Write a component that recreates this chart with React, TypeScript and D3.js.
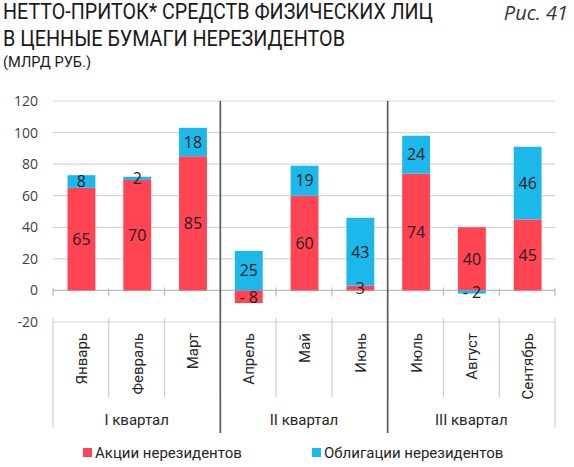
import { useRef, useEffect } from 'react';
import * as d3 from 'd3';

const months = ['Январь', 'Февраль', 'Март', 'Апрель', 'Май', 'Июнь', 'Июль', 'Август', 'Сентябрь'];
const stocks = [65, 70, 85, -8, 60, 3, 74, 40, 45];
const bonds = [8, 2, 18, 25, 19, 43, 24, -2, 46];
const quarters = ['I квартал', 'II квартал', 'III квартал'];
const yTicks = [-20, 0, 20, 40, 60, 80, 100, 120];
const seriesNames = ['Акции нерезидентов', 'Облигации нерезидентов'];

const RED = '#FF4553';
const BLUE = '#1DB8EA';

export default function App() {
  const svgRef = useRef<SVGSVGElement>(null);

  useEffect(() => {
    if (!svgRef.current) return;
    const svg = d3.select(svgRef.current);
    svg.selectAll('*').remove();

    const left = 53;
    const right = 555;

    const x = d3.scaleBand<string>().domain(months).range([left, right]).padding(0);
    const y = d3.scaleLinear().domain([-20, 120]).range([322, 101]);
    const bw = x.bandwidth();

    const rows = months.map((m, i) => ({ month: m, stocks: stocks[i], bonds: bonds[i] }));
    const stack = d3
      .stack<{ month: string; stocks: number; bonds: number }>()
      .keys(['stocks', 'bonds'])
      .offset(d3.stackOffsetDiverging);
    const layers = stack(rows);
    const colors = [RED, BLUE];

    // Titles
    svg.append('text')
      .attr('x', 3).attr('y', 19)
      .attr('font-family', 'Roboto, sans-serif').attr('font-size', 22)
      .attr('fill', '#1a1a1a')
      .attr('textLength', 430).attr('lengthAdjust', 'spacingAndGlyphs')
      .text('НЕТТО-ПРИТОК* СРЕДСТВ ФИЗИЧЕСКИХ ЛИЦ');
    svg.append('text')
      .attr('x', 3).attr('y', 46)
      .attr('font-family', 'Roboto, sans-serif').attr('font-size', 22)
      .attr('fill', '#1a1a1a')
      .attr('textLength', 342).attr('lengthAdjust', 'spacingAndGlyphs')
      .text('В ЦЕННЫЕ БУМАГИ НЕРЕЗИДЕНТОВ');
    svg.append('text')
      .attr('x', 3).attr('y', 67)
      .attr('font-family', 'Roboto, sans-serif').attr('font-size', 14)
      .attr('fill', '#1a1a1a')
      .attr('textLength', 88).attr('lengthAdjust', 'spacingAndGlyphs')
      .text('(МЛРД РУБ.)');
    svg.append('text')
      .attr('x', 568).attr('y', 20)
      .attr('text-anchor', 'end')
      .attr('font-family', '"Open Sans", sans-serif').attr('font-size', 20)
      .attr('font-style', 'italic')
      .attr('fill', '#333')
      .text('Рис. 41');

    // Gridlines
    svg.append('g')
      .selectAll('line')
      .data(yTicks)
      .enter()
      .append('line')
      .attr('x1', left).attr('x2', right)
      .attr('y1', (d) => y(d)).attr('y2', (d) => y(d))
      .attr('stroke', (d) => (d === 0 ? '#bdbdbd' : '#d6d6d6'))
      .attr('stroke-width', 1.2);

    // Y tick labels
    svg.append('g')
      .selectAll('text')
      .data(yTicks)
      .enter()
      .append('text')
      .attr('x', 38)
      .attr('y', (d) => y(d))
      .attr('dy', '0.36em')
      .attr('text-anchor', 'end')
      .attr('font-family', '"Open Sans", sans-serif')
      .attr('font-size', 14)
      .attr('fill', '#404040')
      .text((d) => String(d));

    const boundaries = d3.range(months.length + 1).map((i) => left + i * bw);

    // Ticks on the zero line
    svg.append('g')
      .selectAll('line')
      .data(boundaries)
      .enter()
      .append('line')
      .attr('x1', (d) => d).attr('x2', (d) => d)
      .attr('y1', y(0) - 3).attr('y2', y(0) + 6)
      .attr('stroke', '#bdbdbd').attr('stroke-width', 1.2);

    // Category table lines
    svg.append('g')
      .selectAll('line')
      .data(boundaries)
      .enter()
      .append('line')
      .attr('x1', (d) => d).attr('x2', (d) => d)
      .attr('y1', y(-20) - 4)
      .attr('y2', (_d, i) => (i === 0 || i === months.length ? 428 : 397))
      .attr('stroke', '#d0d0d0').attr('stroke-width', 1.2);

    // Bars
    layers.forEach((layer, li) => {
      svg.append('g')
        .selectAll('rect')
        .data(layer)
        .enter()
        .append('rect')
        .attr('x', (d) => x(d.data.month)! + bw * 0.26)
        .attr('width', bw * 0.5)
        .attr('y', (d) => y(Math.max(d[0], d[1])))
        .attr('height', (d) => Math.abs(y(d[0]) - y(d[1])))
        .attr('fill', colors[li]);
    });

    // Bar value labels
    layers.forEach((layer) => {
      svg.append('g')
        .selectAll('text')
        .data(layer)
        .enter()
        .append('text')
        .attr('x', (d) => x(d.data.month)! + bw * 0.51)
        .attr('y', (d) => y((d[0] + d[1]) / 2))
        .attr('dy', '0.36em')
        .attr('text-anchor', 'middle')
        .attr('font-family', '"Open Sans", sans-serif')
        .attr('font-size', 16)
        .attr('fill', '#2a1a1a')
        .text((d) => {
          const v = d[1] - d[0];
          const signed = d[1] <= 0 && d[0] <= 0 ? -Math.abs(v) : v;
          return signed < 0 ? `- ${Math.abs(signed)}` : String(signed);
        });
    });

    // Quarter separators
    const qBounds = [3, 6].map((i) => left + i * bw);
    svg.append('g')
      .selectAll('line')
      .data(qBounds)
      .enter()
      .append('line')
      .attr('x1', (d) => d).attr('x2', (d) => d)
      .attr('y1', y(120)).attr('y2', 433)
      .attr('stroke', '#555').attr('stroke-width', 1.6);

    // Month labels (rotated)
    svg.append('g')
      .selectAll('text')
      .data(months)
      .enter()
      .append('text')
      .attr('transform', (d) => `translate(${x(d)! + bw / 2 + 6},333) rotate(-90)`)
      .attr('text-anchor', 'end')
      .attr('font-family', 'Roboto, sans-serif')
      .attr('font-size', 15)
      .attr('fill', '#262626')
      .text((d) => d);

    // Quarter labels
    svg.append('g')
      .selectAll('text')
      .data(quarters)
      .enter()
      .append('text')
      .attr('x', (_d, i) => left + (i * 3 + 1.5) * bw)
      .attr('y', 425)
      .attr('text-anchor', 'middle')
      .attr('font-family', 'Roboto, sans-serif')
      .attr('font-size', 15)
      .attr('fill', '#262626')
      .text((d) => d);

    // Legend
    const legendX = [83, 312];
    const legend = svg.append('g')
      .selectAll('g')
      .data(seriesNames)
      .enter()
      .append('g')
      .attr('transform', (_d, i) => `translate(${legendX[i]},448)`);
    legend.append('rect')
      .attr('width', 9).attr('height', 9)
      .attr('fill', (_d, i) => colors[i]);
    legend.append('text')
      .attr('x', 12).attr('y', 10)
      .attr('font-family', 'Roboto, sans-serif')
      .attr('font-size', 15)
      .attr('fill', '#262626')
      .text((d) => d);
  }, []);

  return (
    <svg
      ref={svgRef}
      width={574}
      height={467}
      style={{ position: 'absolute', left: 0, top: 0, background: '#fff' }}
    />
  );
}
